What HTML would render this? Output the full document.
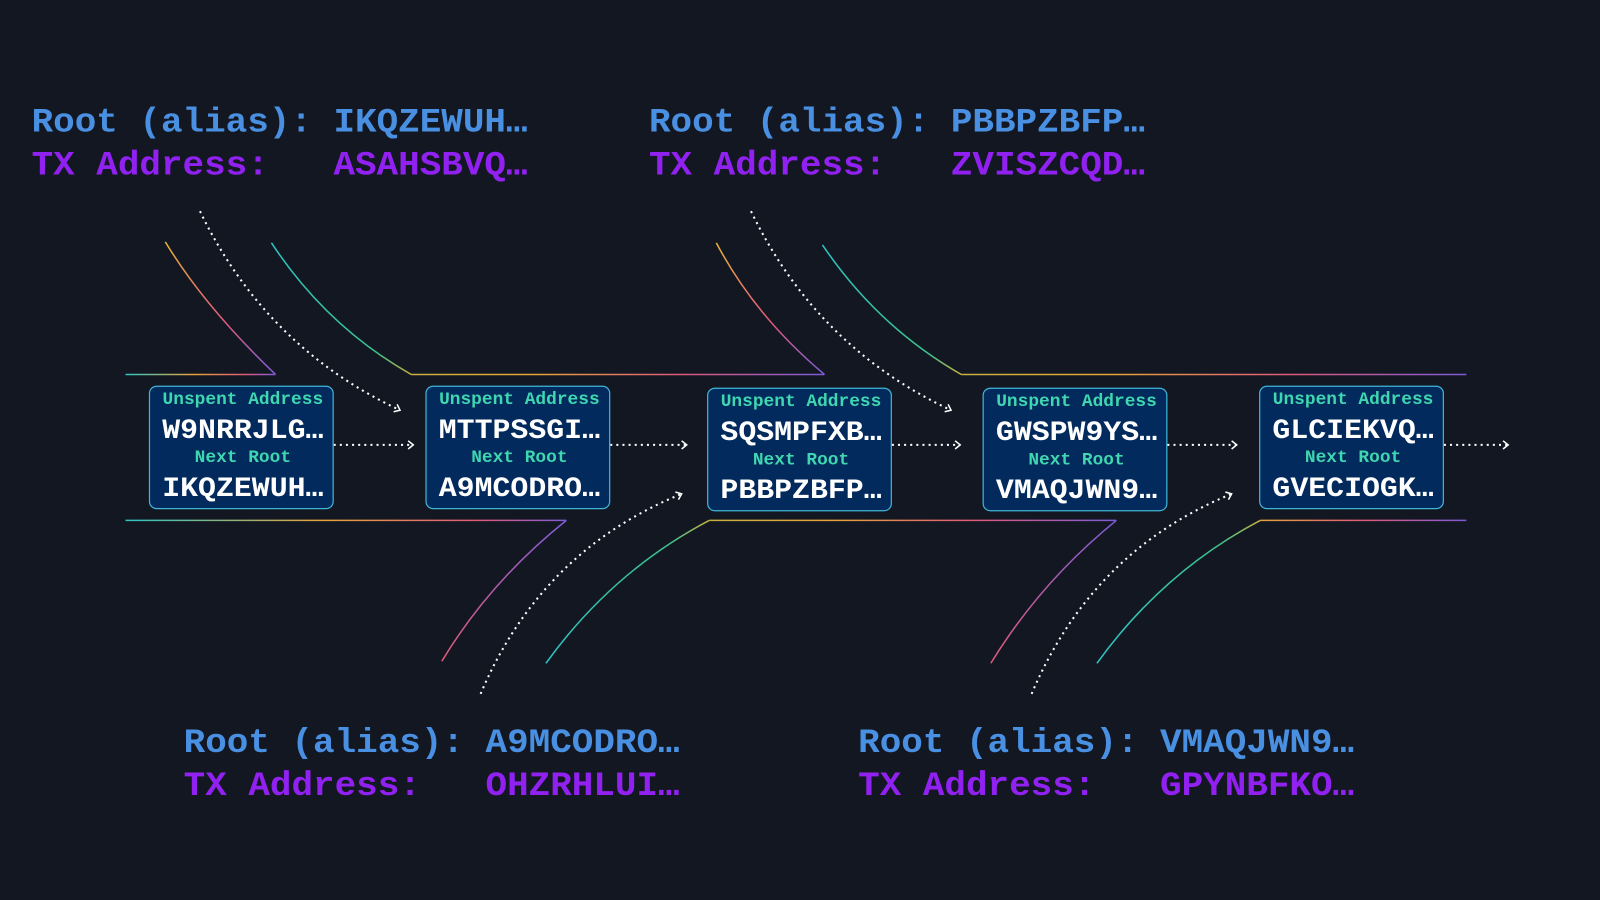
<!DOCTYPE html>
<html><head><meta charset="utf-8"><style>
html,body{margin:0;padding:0;background:#121722;}
svg{display:block}
text{font-family:"Liberation Mono",monospace;font-weight:bold;white-space:pre}
</style></head><body>
<svg width="1600" height="900" viewBox="0 0 1568 882" xmlns="http://www.w3.org/2000/svg">
<defs>
<linearGradient id="h1" gradientUnits="userSpaceOnUse" x1="123" y1="0" x2="270" y2="0">
<stop offset="0" stop-color="#2ec4c4"/><stop offset="0.45" stop-color="#e8a33a"/><stop offset="0.8" stop-color="#e05a7a"/><stop offset="1" stop-color="#7d5bd6"/></linearGradient>
<linearGradient id="h2" gradientUnits="userSpaceOnUse" x1="403" y1="0" x2="808" y2="0">
<stop offset="0" stop-color="#c8b040"/><stop offset="0.3" stop-color="#e8a33a"/><stop offset="0.65" stop-color="#e05a7a"/><stop offset="1" stop-color="#7d5bd6"/></linearGradient>
<linearGradient id="h3" gradientUnits="userSpaceOnUse" x1="942" y1="0" x2="1437" y2="0">
<stop offset="0" stop-color="#c8b040"/><stop offset="0.3" stop-color="#e8a33a"/><stop offset="0.65" stop-color="#e05a7a"/><stop offset="1" stop-color="#7d5bd6"/></linearGradient>
<linearGradient id="h4" gradientUnits="userSpaceOnUse" x1="123" y1="0" x2="555" y2="0">
<stop offset="0" stop-color="#2ec4c4"/><stop offset="0.45" stop-color="#e8a33a"/><stop offset="0.8" stop-color="#e05a7a"/><stop offset="1" stop-color="#7d5bd6"/></linearGradient>
<linearGradient id="h5" gradientUnits="userSpaceOnUse" x1="695" y1="0" x2="1094" y2="0">
<stop offset="0" stop-color="#c8b040"/><stop offset="0.3" stop-color="#e8a33a"/><stop offset="0.65" stop-color="#e05a7a"/><stop offset="1" stop-color="#7d5bd6"/></linearGradient>
<linearGradient id="h6" gradientUnits="userSpaceOnUse" x1="1235" y1="0" x2="1437" y2="0">
<stop offset="0" stop-color="#e8a33a"/><stop offset="0.5" stop-color="#e05a7a"/><stop offset="1" stop-color="#7d5bd6"/></linearGradient>
<linearGradient id="gd" x1="0" y1="0" x2="0" y2="1">
<stop offset="0" stop-color="#e8b23a"/><stop offset="0.6" stop-color="#e05a7a"/><stop offset="1" stop-color="#7d5bd6"/></linearGradient>
<linearGradient id="gc" x1="0" y1="0" x2="1" y2="1">
<stop offset="0" stop-color="#2ec4c4"/><stop offset="0.8" stop-color="#3cc08a"/><stop offset="1" stop-color="#c8b040"/></linearGradient>
<linearGradient id="gu" x1="0" y1="1" x2="1" y2="0">
<stop offset="0" stop-color="#2ec4c4"/><stop offset="0.8" stop-color="#3cc08a"/><stop offset="1" stop-color="#c8b040"/></linearGradient>
<linearGradient id="gp" x1="0" y1="1" x2="1" y2="0">
<stop offset="0" stop-color="#e05a7a"/><stop offset="1" stop-color="#7d5bd6"/></linearGradient>
<marker id="ar" markerWidth="10" markerHeight="10" refX="8" refY="5" orient="auto" markerUnits="userSpaceOnUse">
<path d="M3,1 L8,5 L3,9" fill="none" stroke="#fff" stroke-width="1.5"/>
</marker>
</defs>
<rect width="1568" height="882" fill="#121722"/>

<g fill="none" stroke-width="1.5">
<path d="M123,367 H270" stroke="url(#h1)"/>
<path d="M270,367 Q200,300 162,237" stroke="url(#gd)"/>
<path d="M266,238 Q320,320 403,367" stroke="url(#gc)"/>
<path d="M403,367 H808" stroke="url(#h2)"/>
<path d="M808,367 Q740,310 702,238" stroke="url(#gd)"/>
<path d="M806,240 Q860,320 942,367" stroke="url(#gc)"/>
<path d="M942,367 H1437" stroke="url(#h3)"/>
<path d="M123,510 H555" stroke="url(#h4)"/>
<path d="M555,510 Q480,570 433,648" stroke="url(#gp)"/>
<path d="M535,650 Q600,560 695,510" stroke="url(#gu)"/>
<path d="M695,510 H1094" stroke="url(#h5)"/>
<path d="M1094,510 Q1020,570 971,650" stroke="url(#gp)"/>
<path d="M1075,650 Q1140,560 1235,510" stroke="url(#gu)"/>
<path d="M1235,510 H1437" stroke="url(#h6)"/>
</g>

<g fill="none" stroke="#fff" stroke-width="2" stroke-dasharray="2,4" marker-end="url(#ar)">
<path d="M196,207 Q260,340 392,402"/>
<path d="M736,207 Q800,340 932,402"/>
<path d="M471,680 Q530,540 668,484"/>
<path d="M1011,680 Q1070,540 1207,484"/>
<path d="M327,436 H405"/>
<path d="M598,436 H673"/>
<path d="M874,436 H941"/>
<path d="M1144,436 H1212"/>
<path d="M1415,436 H1478"/>
</g>

<g>
<rect x="146.5" y="378.5" width="180" height="120" rx="7" fill="#022a5c" stroke="#3fb6d8" stroke-width="1.2"/>
<rect x="417.5" y="378.5" width="180" height="120" rx="7" fill="#022a5c" stroke="#3fb6d8" stroke-width="1.2"/>
<rect x="693.5" y="380.5" width="180" height="120" rx="7" fill="#022a5c" stroke="#3fb6d8" stroke-width="1.2"/>
<rect x="963.5" y="380.5" width="180" height="120" rx="7" fill="#022a5c" stroke="#3fb6d8" stroke-width="1.2"/>
<rect x="1234.5" y="378.5" width="180" height="120" rx="7" fill="#022a5c" stroke="#3fb6d8" stroke-width="1.2"/>
</g>
<g text-anchor="middle">
<g font-size="17.5" fill="#3fd6b0">
<text x="238" y="396">Unspent Address</text><text x="238" y="453">Next Root</text>
<text x="509" y="396">Unspent Address</text><text x="509" y="453">Next Root</text>
<text x="785" y="398">Unspent Address</text><text x="785" y="455">Next Root</text>
<text x="1055" y="398">Unspent Address</text><text x="1055" y="455">Next Root</text>
<text x="1326" y="396">Unspent Address</text><text x="1326" y="453">Next Root</text>
</g>
<g font-size="27" fill="#ffffff">
<text x="238" y="429" textLength="158" lengthAdjust="spacingAndGlyphs">W9NRRJLG…</text>
<text x="238" y="486" textLength="158" lengthAdjust="spacingAndGlyphs">IKQZEWUH…</text>
<text x="509" y="429" textLength="158" lengthAdjust="spacingAndGlyphs">MTTPSSGI…</text>
<text x="509" y="486" textLength="158" lengthAdjust="spacingAndGlyphs">A9MCODRO…</text>
<text x="785" y="431" textLength="158" lengthAdjust="spacingAndGlyphs">SQSMPFXB…</text>
<text x="785" y="488" textLength="158" lengthAdjust="spacingAndGlyphs">PBBPZBFP…</text>
<text x="1055" y="431" textLength="158" lengthAdjust="spacingAndGlyphs">GWSPW9YS…</text>
<text x="1055" y="488" textLength="158" lengthAdjust="spacingAndGlyphs">VMAQJWN9…</text>
<text x="1326" y="429" textLength="158" lengthAdjust="spacingAndGlyphs">GLCIEKVQ…</text>
<text x="1326" y="486" textLength="158" lengthAdjust="spacingAndGlyphs">GVECIOGK…</text>
</g>
</g>

<g font-size="34">
<text x="31" y="129" fill="#4a90e2" textLength="486" lengthAdjust="spacingAndGlyphs">Root (alias): IKQZEWUH…</text>
<text x="31" y="171" fill="#9121f0" textLength="486" lengthAdjust="spacingAndGlyphs">TX Address:&#160;&#160; ASAHSBVQ…</text>
<text x="636" y="129" fill="#4a90e2" textLength="486" lengthAdjust="spacingAndGlyphs">Root (alias): PBBPZBFP…</text>
<text x="636" y="171" fill="#9121f0" textLength="486" lengthAdjust="spacingAndGlyphs">TX Address:&#160;&#160; ZVISZCQD…</text>
<text x="180" y="737" fill="#4a90e2" textLength="486" lengthAdjust="spacingAndGlyphs">Root (alias): A9MCODRO…</text>
<text x="180" y="779" fill="#9121f0" textLength="486" lengthAdjust="spacingAndGlyphs">TX Address:&#160;&#160; OHZRHLUI…</text>
<text x="841" y="737" fill="#4a90e2" textLength="486" lengthAdjust="spacingAndGlyphs">Root (alias): VMAQJWN9…</text>
<text x="841" y="779" fill="#9121f0" textLength="486" lengthAdjust="spacingAndGlyphs">TX Address:&#160;&#160; GPYNBFKO…</text>
</g>
</svg>
</body></html>
